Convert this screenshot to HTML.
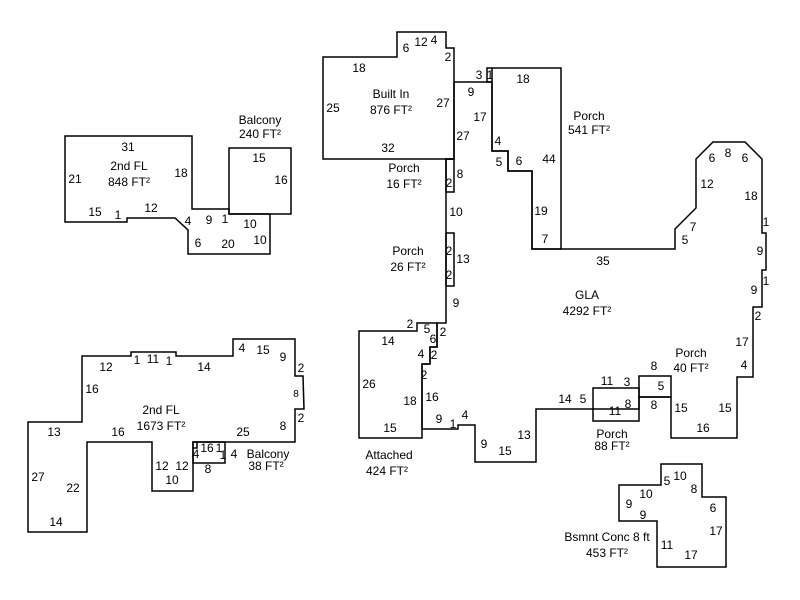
<!DOCTYPE html>
<html><head><meta charset="utf-8"><style>
html,body{margin:0;padding:0;background:#fff;}
svg{display:block;}
text{font-family:"Liberation Sans",Arial,sans-serif;font-size:12px;fill:#000;text-anchor:middle;}
.s{font-size:10px;}
polygon,polyline,rect{fill:none;stroke:#000;stroke-width:1.5;}
</style></head><body>
<svg width="800" height="600" viewBox="0 0 800 600" xmlns="http://www.w3.org/2000/svg">
<polygon points="323,57 397,57 397,32 446,32 446,48 454,48 454,159 323,159"/>
<polygon points="487,68 561,68 561,249 532,249 532,171 508,171 508,151 492,151 492,82 487,82"/>
<line x1="492" y1="68" x2="492" y2="82" stroke="#000" stroke-width="1.5"/>
<polygon points="454,82 492,82 492,151 508,151 508,171 532,171 532,249 675,249 675,229 696,208 696,159 713,142 745,142 762,159 762,233 766,233 766,270 762,270 762,307 753,307 753,377 737,377 737,438 671,438 671,397 639,397 639,409 593,409 536,409 536,462 475,462 475,425 458,425 458,429 422,429 422,364 430,364 430,347 437,347 437,323 446,323 446,159 454,159"/>
<rect x="446" y="159" width="8" height="33"/>
<rect x="446" y="233" width="8" height="53"/>
<polygon points="359,331 417,331 417,323 437,323 437,347 430,347 430,364 422,364 422,438 359,438"/>
<rect x="593" y="388" width="46" height="33"/>
<rect x="639" y="376" width="32" height="21"/>
<polygon points="661,464 702,464 702,497 726,497 726,567 657,567 657,521 619,521 619,485 661,485"/>
<polygon points="65,136 192,136 192,209 229,209 229,214 270,214 270,254 188,254 188,230 175,218 127,218 127,222 65,222"/>
<rect x="229" y="148" width="62" height="66"/>
<polygon points="28,422 82,422 82,356 131,356 131,352 176,352 176,356 233,356 233,339 295,339 295,376 303,376 304,409 295,409 295,442 193,442 193,491 152,491 152,442 87,442 87,532 28,532"/>
<rect x="193" y="442" width="32" height="21"/>
<polyline points="193,448 197,448 197,442"/>

<text x="391" y="98">Built In</text><text x="391" y="114">876 FT²</text>
<text x="359" y="72">18</text><text x="333" y="112">25</text><text x="443" y="107">27</text><text x="388" y="152">32</text>
<text x="406" y="52">6</text><text x="421" y="46">12</text><text x="434" y="44">4</text><text x="448" y="61">2</text>
<text x="479" y="79">3</text><text x="490" y="79">1</text><text x="523" y="83">18</text><text x="471" y="96">9</text>
<text x="480" y="121">17</text><text x="463" y="140">27</text><text x="498" y="145">4</text><text x="499" y="166">5</text>
<text x="519" y="165">6</text><text x="549" y="163">44</text><text x="541" y="215">19</text><text x="545" y="243">7</text>
<text x="603" y="265">35</text>
<text x="589" y="120">Porch</text><text x="589" y="134">541 FT²</text>
<text x="404" y="172">Porch</text><text x="404" y="188">16 FT²</text>
<text x="449" y="187">2</text><text x="460" y="178">8</text><text x="456" y="216">10</text>
<text x="408" y="255">Porch</text><text x="408" y="271">26 FT²</text>
<text x="449" y="255">2</text><text x="463" y="263">13</text><text x="449" y="279">2</text><text x="456" y="307">9</text>
<text x="410" y="328">2</text><text x="427" y="333">5</text><text x="433" y="343">6</text><text x="443" y="336">2</text>
<text x="388" y="345">14</text><text x="421" y="358">4</text><text x="434" y="359">2</text><text x="424" y="379">2</text>
<text x="369" y="388">26</text><text x="410" y="405">18</text><text x="432" y="401">16</text><text x="390" y="432">15</text>
<text x="439" y="423">9</text><text x="453" y="428">1</text><text x="465" y="419">4</text><text x="484" y="448">9</text>
<text x="505" y="455">15</text><text x="524" y="439">13</text><text x="565" y="403">14</text><text x="583" y="403">5</text>
<text x="389" y="459">Attached</text><text x="387" y="475">424 FT²</text>
<text x="587" y="299">GLA</text><text x="587" y="315">4292 FT²</text>
<text x="712" y="162">6</text><text x="728" y="157">8</text><text x="745" y="162">6</text><text x="707" y="188">12</text>
<text x="751" y="200">18</text><text x="766" y="226">1</text><text x="760" y="255">9</text><text x="766" y="285">1</text>
<text x="754" y="294">9</text><text x="758" y="320">2</text><text x="742" y="346">17</text><text x="744" y="369">4</text>
<text x="693" y="231">7</text><text x="685" y="244">5</text><text x="681" y="412">15</text><text x="725" y="412">15</text>
<text x="703" y="432">16</text>
<text x="691" y="357">Porch</text><text x="691" y="372">40 FT²</text>
<text x="654" y="370">8</text><text x="661" y="390">5</text><text x="654" y="409">8</text>
<text x="607" y="385">11</text><text x="627" y="386">3</text><text x="615" y="415">11</text><text x="628" y="408">8</text>
<text x="612" y="438">Porch</text><text x="612" y="450">88 FT²</text>
<text x="667" y="485">5</text><text x="680" y="480">10</text><text x="694" y="493">8</text><text x="646" y="498">10</text>
<text x="629" y="508">9</text><text x="643" y="519">9</text><text x="713" y="512">6</text><text x="716" y="535">17</text>
<text x="667" y="549">11</text><text x="691" y="559">17</text>
<text x="607" y="541">Bsmnt Conc 8 ft</text><text x="607" y="557">453 FT²</text>
<text x="128" y="151">31</text><text x="129" y="170">2nd FL</text><text x="129" y="186">848 FT²</text>
<text x="75" y="183">21</text><text x="181" y="177">18</text><text x="95" y="216">15</text><text x="118" y="219">1</text>
<text x="151" y="212">12</text><text x="188" y="225">4</text><text x="209" y="224">9</text><text x="225" y="223">1</text>
<text x="198" y="247">6</text><text x="228" y="248">20</text><text x="250" y="228">10</text><text x="260" y="244">10</text>
<text x="260" y="124">Balcony</text><text x="260" y="138">240 FT²</text>
<text x="259" y="162">15</text><text x="281" y="184">16</text>
<text x="106" y="371">12</text><text x="137" y="364">1</text><text x="153" y="363">11</text><text x="169" y="365">1</text>
<text x="204" y="371">14</text><text x="242" y="352">4</text><text x="263" y="354">15</text><text x="283" y="361">9</text>
<text x="301" y="372">2</text><text class="s" x="296" y="397">8</text><text x="301" y="422">2</text><text x="283" y="430">8</text>
<text x="243" y="436">25</text><text x="92" y="393">16</text>
<text x="161" y="414">2nd FL</text><text x="161" y="430">1673 FT²</text>
<text x="54" y="436">13</text><text x="118" y="436">16</text><text x="38" y="481">27</text><text x="73" y="492">22</text>
<text x="56" y="526">14</text><text x="162" y="470">12</text><text x="182" y="470">12</text><text x="172" y="484">10</text>
<text x="196" y="458">4</text><text x="207" y="452">16</text><text x="219" y="452">1</text><text x="223" y="459">1</text>
<text x="234" y="458">4</text><text x="208" y="473">8</text>
<text x="268" y="458">Balcony</text><text x="266" y="470">38 FT²</text>
</svg>
</body></html>
